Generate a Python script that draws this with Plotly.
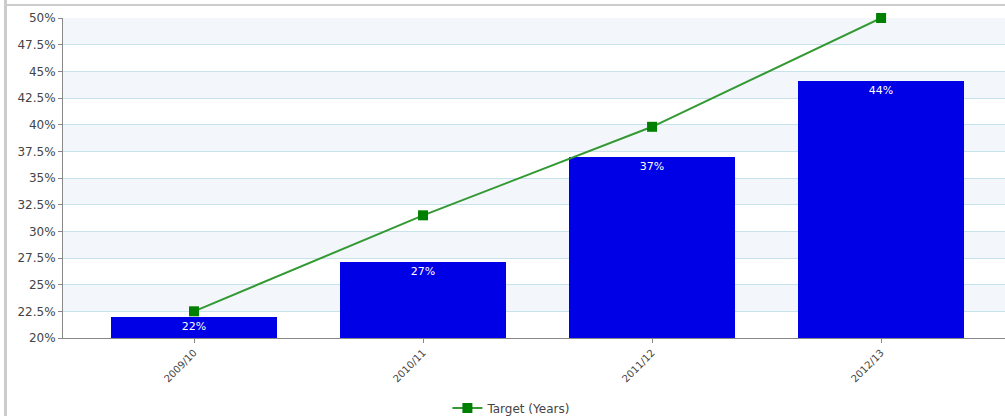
import plotly.graph_objects as go

categories = ["2009/10", "2010/11", "2011/12", "2012/13"]
actual = [22.0, 27.1, 37.0, 44.1]
target = [22.5, 31.5, 39.8, 50.0]
y_ticks = [20, 22.5, 25, 27.5, 30, 32.5, 35, 37.5, 40, 42.5, 45, 47.5, 50]
y_tick_text = [f"{v:g}%" for v in y_ticks]

W, H = 1005, 416
ML, MR, MT, MB = 63, 0, 18, 78

fig = go.Figure()
fig.add_trace(go.Bar(
    x=list(range(len(categories))), y=actual,
    width=0.725,
    marker=dict(color="#0000e6", line=dict(width=0)),
    text=[f"{v:.0f}%" for v in actual],
    textposition="inside", insidetextanchor="end",
    textfont=dict(color="white", size=11, family="DejaVu Sans"),
    showlegend=False, hoverinfo="skip",
))
fig.add_trace(go.Scatter(
    x=list(range(len(categories))), y=target,
    mode="lines+markers", name="Target (Years)",
    line=dict(color="#339933", width=2),
    marker=dict(symbol="square", size=10, color="#008000"),
    cliponaxis=False,
))

shapes = []
for i in range(len(y_ticks) - 1):
    if round(y_ticks[i] / 2.5) % 2 == 1:
        shapes.append(dict(type="rect", xref="paper", yref="y", x0=0, x1=1,
                           y0=y_ticks[i], y1=y_ticks[i + 1],
                           fillcolor="#f3f7fc", line=dict(width=0), layer="below"))
pw = W - ML - MR
ph = H - MT - MB
# outer frame (left and top edges)
fx = (5.5 - ML) / pw
fy = 1 + (MT - 5) / ph
shapes.append(dict(type="line", xref="paper", yref="paper",
                   x0=fx, x1=fx, y0=-2, y1=1 + MT / ph,
                   line=dict(color="#cccccc", width=3)))
shapes.append(dict(type="line", xref="paper", yref="paper",
                   x0=fx, x1=1.1, y0=fy, y1=fy,
                   line=dict(color="#cccccc", width=2)))

fig.update_layout(
    width=W, height=H,
    margin=dict(l=ML, r=MR, t=MT, b=MB, autoexpand=False),
    paper_bgcolor="white", plot_bgcolor="white",
    font=dict(family="DejaVu Sans", size=12, color="#444444"),
    shapes=shapes,
    bargap=0,
    showlegend=True,
    legend=dict(orientation="h", x=0.476, xanchor="center", y=-0.219, yanchor="middle",
                font=dict(size=12, color="#444444"), bgcolor="rgba(0,0,0,0)"),
    xaxis=dict(
        range=[-0.572, 3.541], automargin=False,
        tickmode="array", tickvals=list(range(len(categories))), ticktext=categories,
        tickangle=-45, tickfont=dict(size=10, color="#444444"),
        ticks="outside", ticklen=4, tickcolor="#888888",
        showline=True, linecolor="#888888", linewidth=1,
        showgrid=False, zeroline=False,
    ),
    yaxis=dict(
        range=[20, 50], automargin=False,
        tickmode="array", tickvals=y_ticks, ticktext=y_tick_text,
        tickfont=dict(size=12, color="#444444"),
        ticks="outside", ticklen=4, tickcolor="#888888",
        showline=True, linecolor="#888888", linewidth=1,
        showgrid=True, gridcolor="#c6e2ea", gridwidth=1,
        zeroline=False,
    ),
)

fig.write_html("out.html", config={"displayModeBar": False},
               post_script="document.body.style.margin='0';document.body.style.overflow='hidden';")
